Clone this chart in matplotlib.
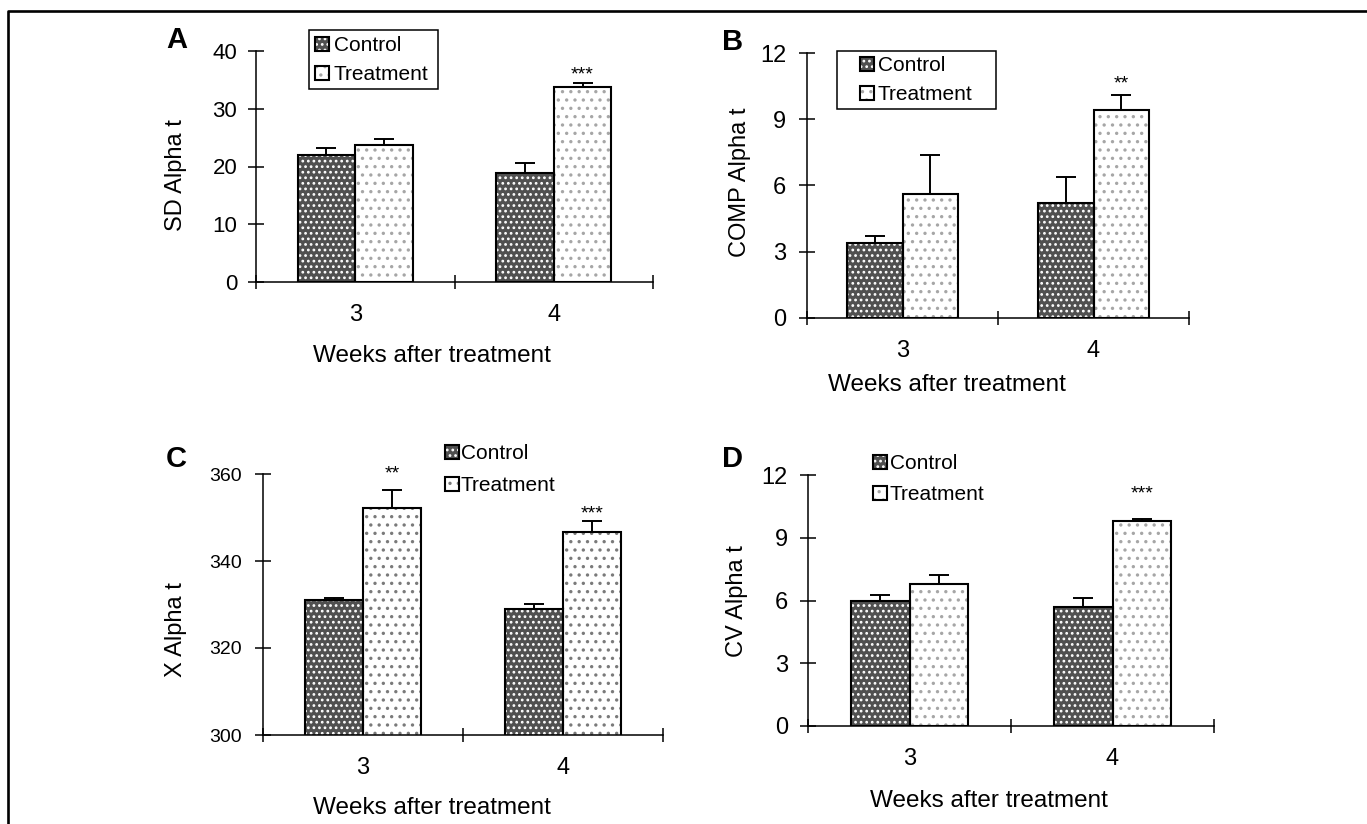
import numpy as np
import matplotlib
matplotlib.use("Agg")
import matplotlib.pyplot as plt
from matplotlib.lines import Line2D
from matplotlib.patches import Rectangle

plt.rcParams["font.family"] = ["Liberation Sans", "DejaVu Sans"]
plt.rcParams["hatch.linewidth"] = 1.2

W, H = 1367, 824

# ---------------- DATA ----------------
weeks = ["3", "4"]
series = ["Control", "Treatment"]

sd_control = [22.0, 18.9]
sd_control_err = [1.2, 1.7]
sd_treatment = [23.7, 33.7]
sd_treatment_err = [1.0, 0.7]
sd_stars = ["", "***"]

comp_control = [3.4, 5.2]
comp_control_err = [0.3, 1.2]
comp_treatment = [5.6, 9.4]
comp_treatment_err = [1.8, 0.7]
comp_stars = ["", "**"]

x_control = [331.0, 329.0]
x_control_err = [0.5, 1.1]
x_treatment = [352.2, 346.7]
x_treatment_err = [4.2, 2.5]
x_stars = ["**", "***"]

cv_control = [6.0, 5.7]
cv_control_err = [0.25, 0.4]
cv_treatment = [6.8, 9.8]
cv_treatment_err = [0.4, 0.1]
cv_stars = ["", "***"]


def fx(x):
    return x / W


def fy(y):
    return 1 - y / H


fig = plt.figure(figsize=(W / 100, H / 100), dpi=100)

# outer frame (left and top edges only)
fig.add_artist(Line2D([fx(8), fx(8), 1.0], [0.0, fy(11), fy(11)],
                      transform=fig.transFigure, color="black", lw=1.9))

panels = [
    dict(letter="A", letter_xy=(177, 40), box=(256, 51, 653, 282),
         ctrl=sd_control, ctrl_err=sd_control_err,
         trt=sd_treatment, trt_err=sd_treatment_err, stars=sd_stars,
         star_off=[2.5, 2.5], ylim=(0, 40), yticks=[0, 10, 20, 30, 40],
         ylabel="SD Alpha t", ylabel_xy=(176, 175), ytick_fs=16, ypad=8,
         xtick_fs=17, xlabel_xy=(432, 356), trt_hatch="..", trt_col="#a6a6a6",
         leg_xy=(315, 36), leg_space=0.48, leg_pad=0.25, leg_frame=(309, 30, 438, 89)),
    dict(letter="B", letter_xy=(733, 42), box=(807, 53, 1189, 318),
         ctrl=comp_control, ctrl_err=comp_control_err,
         trt=comp_treatment, trt_err=comp_treatment_err, stars=comp_stars,
         star_off=[4.7, 4.7], ylim=(0, 12), yticks=[0, 3, 6, 9, 12],
         ylabel="COMP Alpha t", ylabel_xy=(740, 182), ytick_fs=17, ypad=9.5,
         xtick_fs=17, xlabel_xy=(947, 385), trt_hatch="..", trt_col="#a6a6a6",
         leg_xy=(860, 56), leg_space=0.5, leg_pad=0.2, leg_frame=(837, 51, 996, 109)),
    dict(letter="C", letter_xy=(176, 459), box=(263, 474, 663, 735),
         ctrl=x_control, ctrl_err=x_control_err,
         trt=x_treatment, trt_err=x_treatment_err, stars=x_stars,
         star_off=[8.3, 1.8], ylim=(300, 360), yticks=[300, 320, 340, 360],
         ylabel="X Alpha t", ylabel_xy=(176, 630), ytick_fs=14, ypad=9.5,
         xtick_fs=17, xlabel_xy=(432, 808), trt_hatch="..", trt_col="#7a7a7a",
         leg_xy=(445, 444), leg_space=0.62, leg_pad=0.1, leg_frame=None),
    dict(letter="D", letter_xy=(732, 459), box=(808, 475, 1214, 726),
         ctrl=cv_control, ctrl_err=cv_control_err,
         trt=cv_treatment, trt_err=cv_treatment_err, stars=cv_stars,
         star_off=[14.8, 14.8], ylim=(0, 12), yticks=[0, 3, 6, 9, 12],
         ylabel="CV Alpha t", ylabel_xy=(737, 601), ytick_fs=17, ypad=9,
         xtick_fs=17, xlabel_xy=(989, 801), trt_hatch="..", trt_col="#a6a6a6",
         leg_xy=(873, 454), leg_space=0.58, leg_pad=0.15, leg_frame=None),
]

pos = np.arange(len(weeks))
bw = 0.29

for p in panels:
    l, t, r, b = p["box"]
    ax = fig.add_axes([fx(l), fy(b), (r - l) / W, (b - t) / H])

    # control: dark grey with white dots
    c1 = ax.bar(pos - bw / 2, p["ctrl"], bw, color="#505050", edgecolor="white",
                hatch="...", linewidth=0, zorder=2)
    c2 = ax.bar(pos - bw / 2, p["ctrl"], bw, fill=False, edgecolor="black",
                linewidth=1.5, zorder=3)
    # treatment: white with grey dots
    t1 = ax.bar(pos + bw / 2, p["trt"], bw, color="white", edgecolor=p["trt_col"],
                hatch=p["trt_hatch"], linewidth=0, zorder=2)
    t2 = ax.bar(pos + bw / 2, p["trt"], bw, fill=False, edgecolor="black",
                linewidth=1.5, zorder=3)

    ax.errorbar(pos - bw / 2, p["ctrl"], yerr=[[0] * len(pos), p["ctrl_err"]],
                fmt="none", ecolor="black", elinewidth=1.4, capsize=7, capthick=1.4, zorder=4)
    ax.errorbar(pos + bw / 2, p["trt"], yerr=[[0] * len(pos), p["trt_err"]],
                fmt="none", ecolor="black", elinewidth=1.4, capsize=7, capthick=1.4, zorder=4)

    for i, s in enumerate(p["stars"]):
        if s:
            ax.annotate(s, xy=(pos[i] + bw / 2, p["trt"][i] + p["trt_err"][i]),
                        xytext=(0, p["star_off"][i]), textcoords="offset points",
                        ha="center", va="baseline", fontsize=14)

    ax.set_xlim(-0.5, len(weeks) - 0.5)
    ax.set_ylim(*p["ylim"])
    ax.set_yticks(p["yticks"])
    ax.spines["top"].set_visible(False)
    ax.spines["right"].set_visible(False)
    for sp in ("left", "bottom"):
        ax.spines[sp].set_linewidth(1.1)
    ax.patch.set_visible(False)

    ax.tick_params(axis="y", direction="inout", length=11, width=1.1,
                   pad=p["ypad"], labelsize=p["ytick_fs"])
    ax.set_xticks(np.arange(-0.5, len(weeks), 1.0))
    ax.set_xticklabels([])
    ax.tick_params(axis="x", which="major", direction="inout", length=10, width=1.1)
    ax.set_xticks(pos, weeks, minor=True)
    ax.tick_params(axis="x", which="minor", length=0, pad=16, labelsize=p["xtick_fs"])

    fig.text(fx(p["xlabel_xy"][0]), fy(p["xlabel_xy"][1]), "Weeks after treatment",
             ha="center", va="center", fontsize=17.5)
    fig.text(fx(p["ylabel_xy"][0]), fy(p["ylabel_xy"][1]), p["ylabel"],
             ha="center", va="center", rotation=90, fontsize=17)
    fig.text(fx(p["letter_xy"][0]), fy(p["letter_xy"][1]), p["letter"],
             ha="center", va="center", fontsize=21, fontweight="bold")

    fig.legend([(c1, c2), (t1, t2)], series, loc="upper left",
               bbox_to_anchor=(fx(p["leg_xy"][0]), fy(p["leg_xy"][1])),
               bbox_transform=fig.transFigure, frameon=False, fontsize=15,
               handlelength=0.65, handleheight=0.65, handletextpad=p["leg_pad"],
               labelspacing=p["leg_space"], borderpad=0, borderaxespad=0)
    if p["leg_frame"] is not None:
        x0, y0, x1, y1 = p["leg_frame"]
        fig.add_artist(Rectangle((fx(x0), fy(y1)), (x1 - x0) / W, (y1 - y0) / H,
                                 transform=fig.transFigure, fill=False,
                                 edgecolor="black", lw=1.1))

fig.savefig("out.png", dpi=100)
